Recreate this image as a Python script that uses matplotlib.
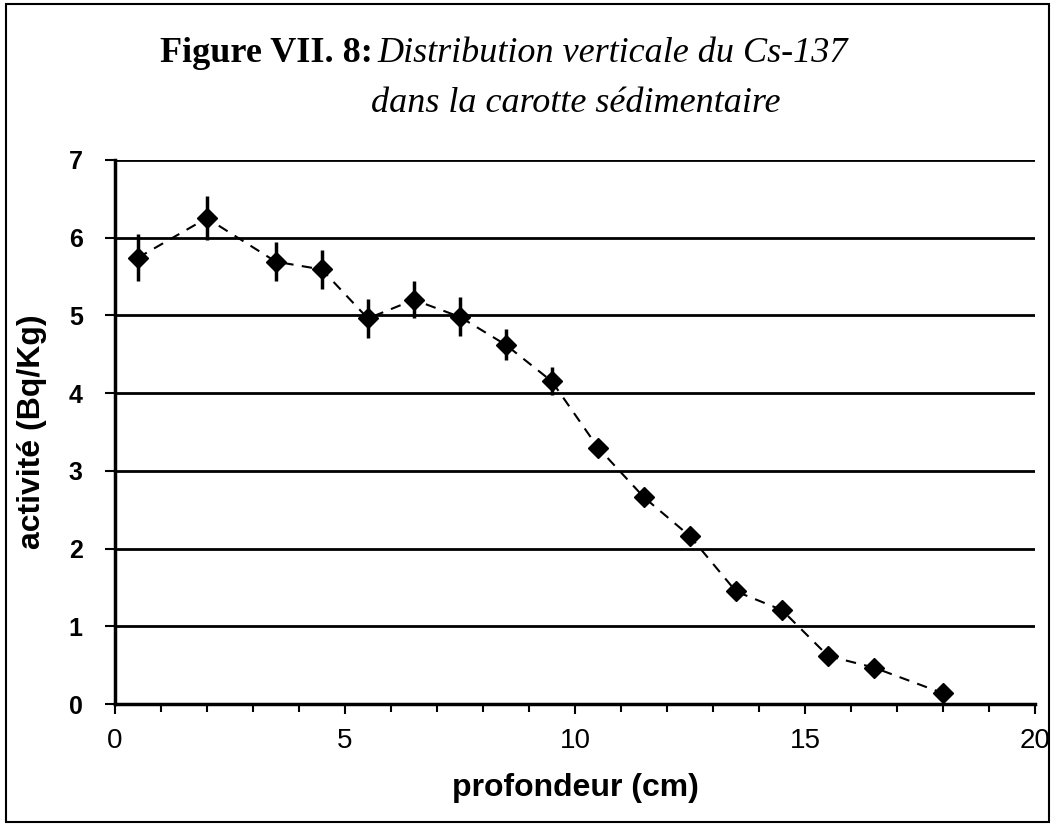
import matplotlib.pyplot as plt
from matplotlib.patches import Rectangle
from matplotlib.ticker import MultipleLocator

# profondeur (cm) et activité du Cs-137 (Bq/Kg)
profondeur = [0.5, 2, 3.5, 4.5, 5.5, 6.5, 7.5, 8.5, 9.5, 10.5, 11.5, 12.5, 13.5, 14.5, 15.5, 16.5, 18]
activite = [5.74, 6.25, 5.69, 5.59, 4.96, 5.2, 4.98, 4.62, 4.15, 3.3, 2.66, 2.16, 1.45, 1.21, 0.62, 0.47, 0.14]
erreur = [0.3, 0.28, 0.25, 0.25, 0.25, 0.24, 0.25, 0.2, 0.18, 0.08, 0.08, 0.08, 0.06, 0.06, 0.04, 0.04, 0.04]

fig = plt.figure(figsize=(10.53, 8.26), dpi=100)
ax = fig.add_axes([0.109, 0.1475, 0.874, 0.659])

ax.errorbar(profondeur, activite, yerr=erreur, fmt='D', color='black', ms=10,
            elinewidth=2.5, capsize=0, zorder=3)
ax.plot(profondeur, activite, '--', color='black', lw=1.5, dashes=(5, 4), zorder=2)

ax.set_xlim(0, 20)
ax.set_ylim(0, 7)
ax.xaxis.set_major_locator(MultipleLocator(5))
ax.xaxis.set_minor_locator(MultipleLocator(1))
ax.yaxis.set_major_locator(MultipleLocator(1))
ax.grid(axis='y', color='black', lw=2)
ax.tick_params(axis='x', which='major', direction='out', length=7, width=1.5,
               labelsize=20, pad=10)
ax.tick_params(axis='y', which='major', direction='out', length=7, width=1.5,
               labelsize=18, pad=16)
ax.tick_params(axis='x', which='minor', direction='out', length=6, width=1.5)
for lab in ax.get_yticklabels():
    lab.set_fontweight('bold')
    lab.set_family('Liberation Sans')
for lab in ax.get_xticklabels():
    lab.set_family('Liberation Sans')

for side in ['top', 'right']:
    ax.spines[side].set_visible(False)
ax.spines['left'].set_linewidth(2.5)
ax.spines['bottom'].set_linewidth(2.5)

ax.set_xlabel('profondeur (cm)', fontsize=23, fontweight='bold', family='Liberation Sans', labelpad=14)
ax.set_ylabel('activité (Bq/Kg)', fontsize=23, fontweight='bold', family='Liberation Sans', labelpad=16)

# titre sur deux lignes
fig.text(0.152, 0.925, 'Figure VII. 8:', fontsize=26, fontweight='bold',
         family='Liberation Serif', va='baseline')
fig.text(0.358, 0.925, 'Distribution verticale du Cs-137', fontsize=26, style='italic',
         family='Liberation Serif', va='baseline')
fig.text(0.352, 0.865, 'dans la carotte sédimentaire', fontsize=26, style='italic',
         family='Liberation Serif', va='baseline')

# cadre autour de la figure
fig.patches.append(Rectangle((0.006, 0.005), 0.99, 0.99, transform=fig.transFigure,
                             fill=False, edgecolor='black', lw=1.5))

fig.savefig('out.png', dpi=100)
